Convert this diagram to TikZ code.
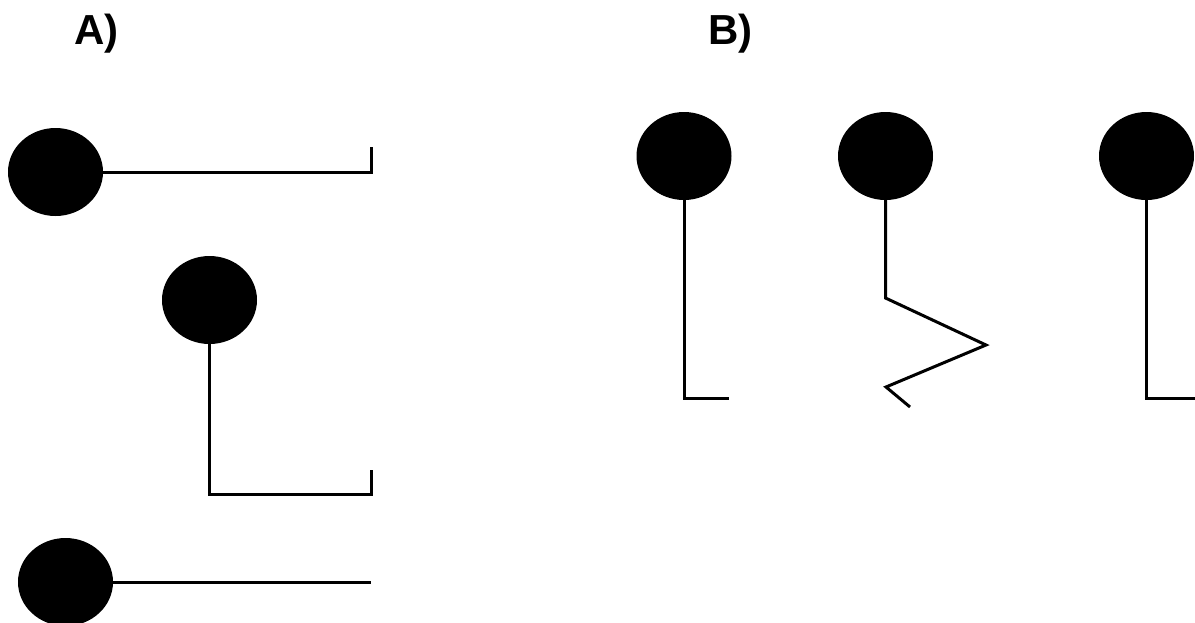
\documentclass[tikz,border=0pt]{standalone}
\usepackage{fontspec}
\setmainfont{Liberation Sans}
\usetikzlibrary{shapes.geometric}
\begin{document}
\begin{tikzpicture}[x=1pt,y=-1pt,
  ball/.style={ellipse,fill=black,draw=none,minimum width=95pt,minimum height=88pt,inner sep=0pt},
  stick/.style={line width=3pt,line join=miter,line cap=butt},
  lbl/.style={anchor=base west,inner sep=0pt,font=\fontsize{42}{48}\selectfont\bfseries}]
\useasboundingbox (0,0) rectangle (1195,622);
\clip (0,0) rectangle (1195,622);
\node[lbl] (la) at (74,44) {A)};
\node[lbl] (lb) at (708,44) {B)};
% A
\node[ball] (a1) at (55.5,172) {};
\coordinate (a1e) at (371,172);
\coordinate (a1t) at (371,147);
\draw[stick] (a1.east) -- (a1e) -- (a1t);
\node[ball] (a2) at (209.5,300) {};
\coordinate (a2c) at (209.5,494);
\coordinate (a2e) at (371,494);
\coordinate (a2t) at (371,470);
\draw[stick] (a2.south) -- (a2c) -- (a2e) -- (a2t);
\node[ball] (a3) at (65.5,582) {};
\coordinate (a3e) at (371,582);
\draw[stick] (a3.east) -- (a3e);
% B
\node[ball] (b1) at (684,156) {};
\coordinate (b1c) at (684,398);
\coordinate (b1e) at (729,398);
\draw[stick] (b1.south) -- (b1c) -- (b1e);
\node[ball] (b2) at (885.5,156) {};
\coordinate (b2a) at (885.5,298);
\coordinate (b2b) at (986,345);
\coordinate (b2c) at (886,387);
\coordinate (b2d) at (910,407);
\draw[stick] (b2.south) -- (b2a) -- (b2b) -- (b2c) -- (b2d);
\node[ball] (b3) at (1146.5,156) {};
\coordinate (b3c) at (1146.5,398);
\coordinate (b3e) at (1195,398);
\draw[stick] (b3.south) -- (b3c) -- (b3e);
\end{tikzpicture}
\end{document}
